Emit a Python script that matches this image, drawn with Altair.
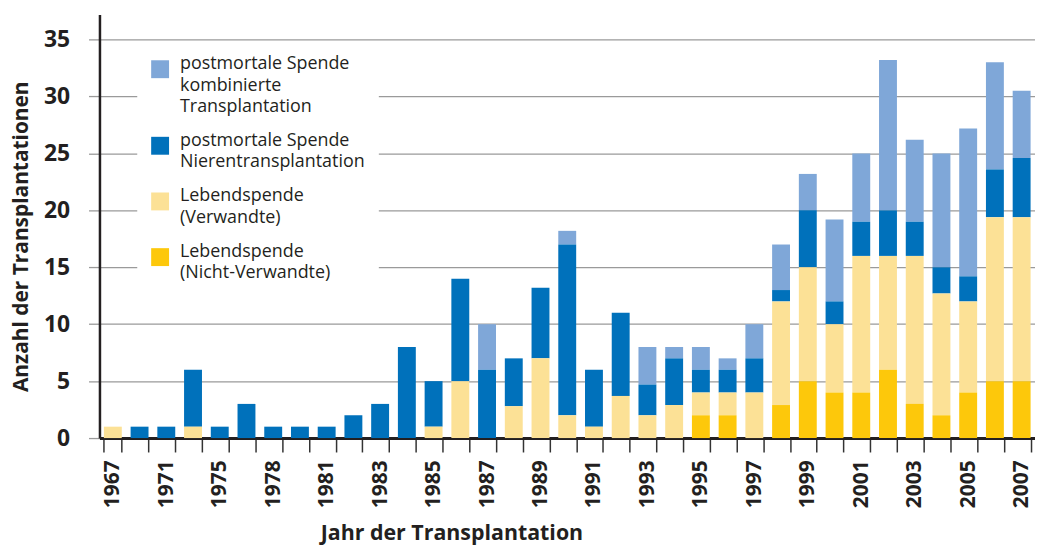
import altair as alt
import pandas as pd

years = ["1967", "1969", "1971", "1973", "1975", "1977", "1978", "1980", "1981",
         "1982", "1983", "1984", "1985", "1986", "1987", "1988", "1989", "1990",
         "1991", "1992", "1993", "1994", "1995", "1996", "1997", "1998", "1999",
         "2000", "2001", "2002", "2003", "2004", "2005", "2006", "2007"]

labeled_years = ["1967", "1971", "1975", "1978", "1981", "1983", "1985", "1987",
                 "1989", "1991", "1993", "1995", "1997", "1999", "2001", "2003",
                 "2005", "2007"]

# Lebendspende (Nicht-Verwandte)
nicht_verwandte = [0, 0, 0, 0, 0, 0, 0, 0, 0,
                   0, 0, 0, 0, 0, 0, 0, 0, 0,
                   0, 0, 0, 0, 2, 2, 0, 2.9, 5,
                   4, 4, 6, 3, 2, 4, 5, 5]
# Lebendspende (Verwandte)
verwandte = [1, 0, 0, 1, 0, 0, 0, 0, 0,
             0, 0, 0, 1, 5, 0, 2.8, 7, 2,
             1, 3.7, 2, 2.9, 2, 2, 4, 9.1, 10,
             6, 12, 10, 13, 10.7, 8, 14.4, 14.4]
# postmortale Spende Nierentransplantation
niere = [0, 1, 1, 5, 1, 3, 1, 1, 1,
         2, 3, 8, 4, 9, 6, 4.2, 6.2, 15,
         5, 7.3, 2.7, 4.1, 2, 2, 3, 1, 5,
         2, 3, 4, 3, 2.3, 2.2, 4.2, 5.2]
# postmortale Spende kombinierte Transplantation
kombiniert = [0, 0, 0, 0, 0, 0, 0, 0, 0,
              0, 0, 0, 0, 0, 4, 0, 0, 1.2,
              0, 0, 3.3, 1, 2, 1, 3, 4, 3.2,
              7.2, 6, 13.2, 7.2, 10, 13, 9.4, 5.9]

series_names = ["postmortale Spende|kombinierte|Transplantation",
                "postmortale Spende|Nierentransplantation",
                "Lebendspende|(Verwandte)",
                "Lebendspende|(Nicht-Verwandte)"]
series_colors = ["#7FA7D8", "#0071BB", "#FCE196", "#FDC80B"]
series_values = [kombiniert, niere, verwandte, nicht_verwandte]

rows = []
for idx, (name, values) in enumerate(zip(series_names, series_values)):
    for year, v in zip(years, values):
        rows.append({"Jahr": year, "Serie": name, "Anzahl": v,
                     "Stapel": len(series_names) - 1 - idx})
df = pd.DataFrame(rows)

FONT = "Open Sans"
TEXT = "#231F20"

label_expr = ("indexof([" + ",".join("'" + y + "'" for y in labeled_years) +
              "], datum.value) >= 0 ? datum.label : ''")

chart = alt.Chart(df).mark_bar().encode(
    x=alt.X("Jahr:N", sort=years,
            scale=alt.Scale(paddingInner=0.33, paddingOuter=0.165),
            axis=alt.Axis(title="Jahr der Transplantation",
                          labelExpr=label_expr, labelAngle=270,
                          labelAlign="right", labelBaseline="middle",
                          tickBand="extent", tickSize=14, tickColor="#333333",
                          tickWidth=1.5, domainColor=TEXT, domainWidth=3,
                          labelFont=FONT, labelFontSize=21,
                          labelFontWeight="bold", labelColor=TEXT,
                          labelPadding=8, labelOverlap=False,
                          titleFont=FONT, titleFontSize=21.5,
                          titleFontWeight="bold", titleColor=TEXT,
                          titleAlign="left", titleX=222, titleY=96,
                          titleBaseline="middle", grid=False)),
    y=alt.Y("Anzahl:Q", stack="zero",
            scale=alt.Scale(domain=[0, 37.2], nice=False),
            axis=alt.Axis(title="Anzahl der Transplantationen",
                          values=[0, 5, 10, 15, 20, 25, 30, 35],
                          grid=True, gridColor="#9A9A9A", gridWidth=1.3,
                          tickColor="#9A9A9A", tickSize=11, tickWidth=1.3,
                          domainColor=TEXT, domainWidth=2.5,
                          labelFont=FONT, labelFontSize=23,
                          labelFontWeight="bold", labelColor=TEXT,
                          labelPadding=19,
                          titleFont=FONT, titleFontSize=21,
                          titleFontWeight="bold", titleColor=TEXT,
                          titlePadding=12, titleY=223)),
    color=alt.Color("Serie:N",
                    scale=alt.Scale(domain=series_names, range=series_colors),
                    legend=alt.Legend(title=None, orient="none",
                                      legendX=38, legendY=32,
                                      fillColor="white", padding=14,
                                      symbolType="square", symbolSize=324,
                                      symbolStrokeWidth=0, symbolOpacity=1,
                                      labelFont=FONT, labelFontSize=18,
                                      labelColor=TEXT, labelLimit=400,
                                      labelBaseline="alphabetic", labelOffset=11,
                                      labelExpr="split(datum.label, '|')",
                                      rowPadding=16)),
    order=alt.Order("Stapel:Q", sort="ascending"),
).properties(
    width=941, height=426,
    padding={"left": 2, "top": 5, "right": 0, "bottom": 0},
).configure(
    style={"guide-label": {"lineHeight": 21.5}},
).configure_view(stroke=None)

chart.save("out.html", embed_options={"renderer": "svg", "actions": False})
